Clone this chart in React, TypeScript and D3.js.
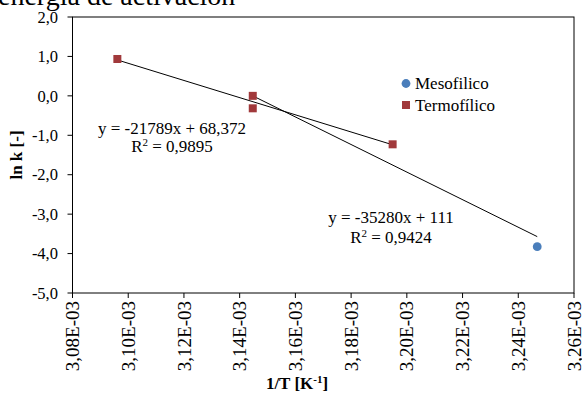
import React from "react";
import * as d3 from "d3";

const W = 582;
const H = 397;

const xTicks = [3.08e-3, 3.1e-3, 3.12e-3, 3.14e-3, 3.16e-3, 3.18e-3, 3.2e-3, 3.22e-3, 3.24e-3, 3.26e-3];
const xTickLabels = ["3,08E-03", "3,10E-03", "3,12E-03", "3,14E-03", "3,16E-03", "3,18E-03", "3,20E-03", "3,22E-03", "3,24E-03", "3,26E-03"];
const yTicks = [2, 1, 0, -1, -2, -3, -4, -5];
const yTickLabels = ["2,0", "1,0", "0,0", "-1,0", "-2,0", "-3,0", "-4,0", "-5,0"];

const termoX = [3.0961e-3, 3.1447e-3, 3.1447e-3, 3.1949e-3];
const termoY = [0.935, 0.0, -0.316, -1.229];
const mesoX = [3.2468e-3];
const mesoY = [-3.826];

// trendline endpoints (as drawn)
const trendTermoX = [3.0961e-3, 3.1949e-3];
const trendTermoY = [0.911, -1.241];
const trendMesoX = [3.1447e-3, 3.2468e-3];
const trendMesoY = [0.0, -3.57];

const FONT = "'Liberation Serif', serif";
const RED = "#A1393B";
const BLUE = "#4A7EBB";

export default function App() {
  const x = d3.scaleLinear().domain([3.08e-3, 3.26e-3]).range([72.5, 574]);
  const y = d3.scaleLinear().domain([-5, 2]).range([293, 17]);
  const line = d3
    .line<[number, number]>()
    .x((d) => x(d[0]))
    .y((d) => y(d[1]));
  const t1 = trendTermoX.map((v, i) => [v, trendTermoY[i]] as [number, number]);
  const t2 = trendMesoX.map((v, i) => [v, trendMesoY[i]] as [number, number]);

  return (
    <svg
      width={W}
      height={H}
      style={{ position: "absolute", left: 0, top: 0, background: "#fff" }}
      fontFamily={FONT}
    >
      <rect x={0} y={0} width={W} height={H} fill="#fff" />
      <text x={-2} y={5} fontSize={28} fill="#000">
        energia de activacion
      </text>
      {/* plot border */}
      <rect x={x(3.08e-3)} y={y(2)} width={x(3.26e-3) - x(3.08e-3)} height={y(-5) - y(2)} fill="none" stroke="#000" strokeWidth={1} />
      {/* y ticks */}
      {yTicks.map((t, i) => (
        <g key={"y" + i}>
          <line x1={x(3.08e-3) - 5} x2={x(3.08e-3)} y1={y(t)} y2={y(t)} stroke="#000" />
          <text x={58} y={y(t)} dy="0.35em" textAnchor="end" fontSize={16.5}>
            {yTickLabels[i]}
          </text>
        </g>
      ))}
      {/* x ticks */}
      {xTicks.map((t, i) => (
        <g key={"x" + i}>
          <line x1={x(t)} x2={x(t)} y1={y(-5)} y2={y(-5) + 5} stroke="#000" />
          <text
            transform={`translate(${x(t)},301) rotate(-90)`}
            dy="0.35em"
            textAnchor="end"
            fontSize={19}
          >
            {xTickLabels[i]}
          </text>
        </g>
      ))}
      {/* axis titles */}
      <text transform={`translate(22,155) rotate(-90)`} textAnchor="middle" fontSize={17} fontWeight="bold">
        ln k [-]
      </text>
      <text x={297} y={389} textAnchor="middle" fontSize={17} fontWeight="bold">
        1/T [K<tspan dy={-6} fontSize={11}>-1</tspan>
        <tspan dy={6}>]</tspan>
      </text>
      {/* trendlines */}
      <path d={line(t1) || ""} fill="none" stroke="#000" strokeWidth={1} />
      <path d={line(t2) || ""} fill="none" stroke="#000" strokeWidth={1} />
      {/* markers */}
      {mesoX.map((v, i) => (
        <circle key={"m" + i} cx={x(v)} cy={y(mesoY[i])} r={4.4} fill={BLUE} />
      ))}
      {termoX.map((v, i) => (
        <rect key={"t" + i} x={x(v) - 4} y={y(termoY[i]) - 4} width={8} height={8} fill={RED} />
      ))}
      {/* equations */}
      <text x={172} y={134} textAnchor="middle" fontSize={17}>
        y = -21789x + 68,372
      </text>
      <text x={172} y={152} textAnchor="middle" fontSize={17}>
        R<tspan dy={-6} fontSize={11}>2</tspan>
        <tspan dy={6}> = 0,9895</tspan>
      </text>
      <text x={391} y={223} textAnchor="middle" fontSize={17}>
        y = -35280x + 111
      </text>
      <text x={391} y={243} textAnchor="middle" fontSize={17}>
        R<tspan dy={-6} fontSize={11}>2</tspan>
        <tspan dy={6}> = 0,9424</tspan>
      </text>
      {/* legend */}
      <circle cx={406} cy={83.5} r={4.4} fill={BLUE} />
      <text x={415} y={89} fontSize={17}>
        Mesofilico
      </text>
      <rect x={402} y={101} width={8} height={8} fill={RED} />
      <text x={415} y={110.5} fontSize={17}>
        Termofílico
      </text>
    </svg>
  );
}
